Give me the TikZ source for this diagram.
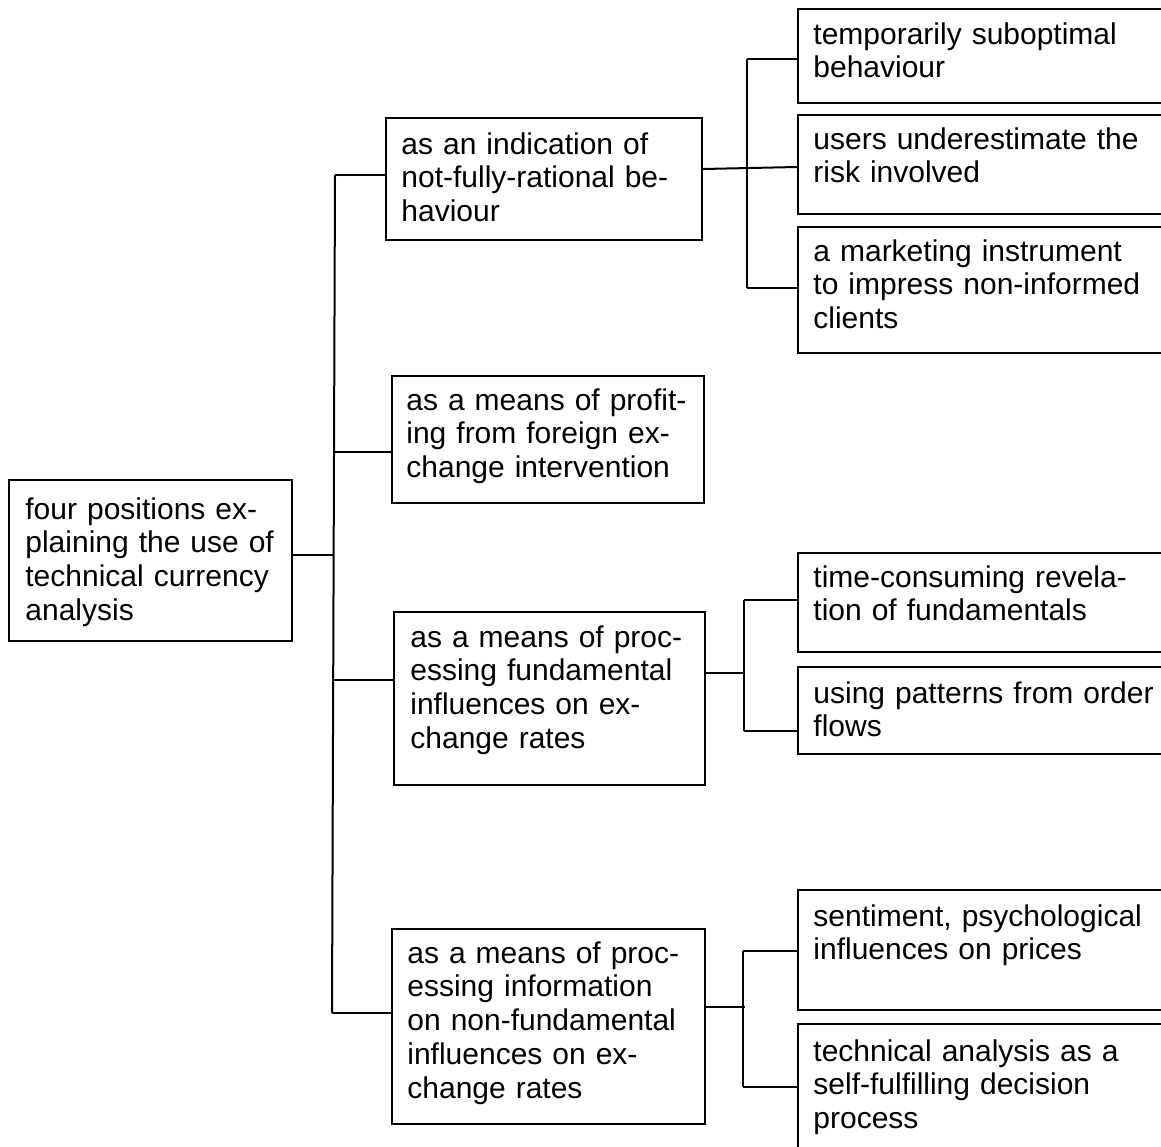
\documentclass[tikz,border=0pt]{standalone}
\usepackage{fontspec}
\setmainfont{Liberation Sans}
\usetikzlibrary{calc}
\begin{document}
\begin{tikzpicture}[x=0.5pt,y=-0.5pt,
  box/.style={draw, line width=1pt, inner sep=0pt, anchor=north west},
  lbl/.style={anchor=base west, inner sep=0pt, text width=195pt, align=left,
    font=\fontsize{15pt}{16.95pt}\selectfont},
  conn/.style={line width=1pt}]
\useasboundingbox (0,0) rectangle (1161,1146);
\clip (0,0) rectangle (1161,1146);
% boxes
\node[box, minimum width=141.5pt, minimum height=80.5pt] (root) at (8,479) {};
\node[box, minimum width=158pt, minimum height=61pt] (b1) at (385,117) {};
\node[box, minimum width=156pt, minimum height=63.5pt] (b2) at (391,375) {};
\node[box, minimum width=155.5pt, minimum height=86.5pt] (b3) at (393,611) {};
\node[box, minimum width=156.5pt, minimum height=97.5pt] (b4) at (391,928) {};
\node[box, minimum width=200pt, minimum height=47pt] (c11) at (797,8) {};
\node[box, minimum width=200pt, minimum height=49.5pt] (c12) at (797,114) {};
\node[box, minimum width=200pt, minimum height=63pt] (c13) at (797,226) {};
\node[box, minimum width=200pt, minimum height=49.5pt] (c31) at (797,552) {};
\node[box, minimum width=200pt, minimum height=43.5pt] (c32) at (797,666) {};
\node[box, minimum width=200pt, minimum height=60pt] (c41) at (797,889) {};
\node[box, minimum width=200pt, minimum height=75pt] (c42) at (797,1023) {};
% texts
\node[lbl] (t0) at ($(root.north west)+(17,40)$) {four positions ex-\\plaining the use of\\technical currency\\analysis};
\node[lbl] (t1) at ($(b1.north west)+(16,37)$) {as an indication of\\not-fully-rational be-\\haviour};
\node[lbl] (t2) at ($(b2.north west)+(15,35)$) {as a means of profit-\\ing from foreign ex-\\change intervention};
\node[lbl] (t3) at ($(b3.north west)+(17,36)$) {as a means of proc-\\essing fundamental\\influences on ex-\\change rates};
\node[lbl] (t4) at ($(b4.north west)+(16,35)$) {as a means of proc-\\essing information\\on non-fundamental\\influences on ex-\\change rates};
\node[lbl] (t11) at ($(c11.north west)+(16,36)$) {temporarily suboptimal\\behaviour};
\node[lbl] (t12) at ($(c12.north west)+(16,35)$) {users underestimate the\\risk involved};
\node[lbl] (t13) at ($(c13.north west)+(16,35)$) {a marketing instrument\\to impress non-informed\\clients};
\node[lbl] (t31) at ($(c31.north west)+(16,35)$) {time-consuming revela-\\tion of fundamentals};
\node[lbl] (t32) at ($(c32.north west)+(16,37)$) {using patterns from order\\flows};
\node[lbl] (t41) at ($(c41.north west)+(16,37)$) {sentiment, psychological\\influences on prices};
\node[lbl] (t42) at ($(c42.north west)+(16,38)$) {technical analysis as a\\self-fulfilling decision\\process};
% trunk coordinates
\coordinate (tt) at (335,175);
\coordinate (j0) at (333.5,555);
\coordinate (j2) at (334,452);
\coordinate (j3) at (332.5,680);
\coordinate (tb) at (332,1013);
\draw[conn] (tt) -- (tb);
\draw[conn] (root.east |- j0) -- (j0);
\draw[conn] (tt) -- (tt -| b1.west);
\draw[conn] (j2) -- (j2 -| b2.west);
\draw[conn] (j3) -- (j3 -| b3.west);
\draw[conn] (tb) -- (tb -| b4.west);
% subtree 1
\coordinate (s1t) at (747,59);
\coordinate (s1b) at (747,288);
\draw[conn] (s1t) -- (s1b);
\draw[conn] (s1t) -- (s1t -| c11.west);
\draw[conn] (s1b) -- (s1b -| c13.west);
\draw[conn] ($(b1.east)+(0,-10)$) -- ($(c12.west)+(0,2.5)$);
% subtree 3
\coordinate (s3t) at (744,600);
\coordinate (s3m) at (744,673);
\coordinate (s3b) at (744,731);
\draw[conn] (s3t) -- (s3b);
\draw[conn] (b3.east |- s3m) -- (s3m);
\draw[conn] (s3t) -- (s3t -| c31.west);
\draw[conn] (s3b) -- (s3b -| c32.west);
% subtree 4
\coordinate (s4t) at (743,951);
\coordinate (s4m) at (745,1007);
\coordinate (s4b) at (743,1087);
\draw[conn] (s4t) -- (s4b);
\draw[conn] (b4.east |- s4m) -- (s4m);
\draw[conn] (s4t) -- (s4t -| c41.west);
\draw[conn] (s4b) -- (s4b -| c42.west);
\end{tikzpicture}
\end{document}
